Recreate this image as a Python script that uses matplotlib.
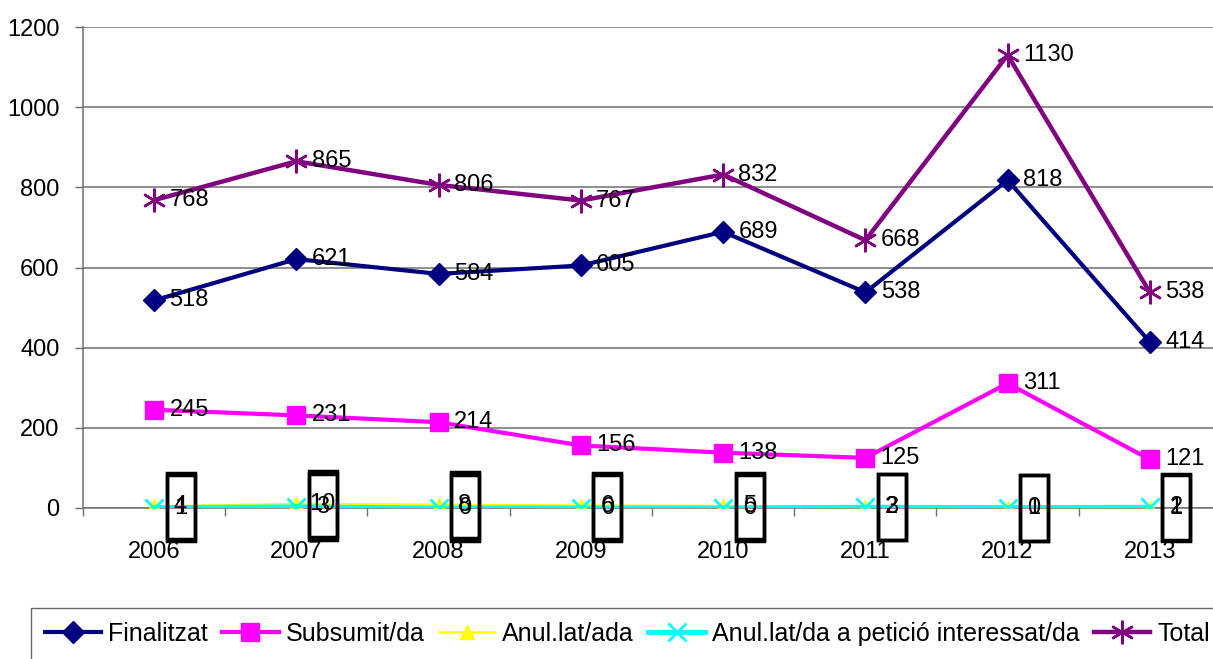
import matplotlib
matplotlib.use("Agg")
import matplotlib.pyplot as plt
from matplotlib.path import Path
from matplotlib.ticker import FixedLocator, MultipleLocator

years = ["2006", "2007", "2008", "2009", "2010", "2011", "2012", "2013"]
finalitzat = [518, 621, 584, 605, 689, 538, 818, 414]
subsumit = [245, 231, 214, 156, 138, 125, 311, 121]
anulada = [4, 10, 8, 6, 5, 3, 0, 1]
anulada_peticio = [1, 3, 0, 0, 0, 2, 1, 2]
total = [768, 865, 806, 767, 832, 668, 1130, 538]

names = ["Finalitzat", "Subsumit/da", "Anul.lat/ada",
         "Anul.lat/da a petició interessat/da", "Total"]

plt.rcParams['font.family'] = ['Liberation Sans', 'DejaVu Sans']
FS = 17
LFS = 18

fig = plt.figure(figsize=(12.13, 6.59), dpi=100)
ax = fig.add_axes([83/1213, 151/659, (1221-83)/1213, (508-27)/659])

x = list(range(len(years)))

ax.plot(x, finalitzat, color='#000080', lw=3.0, marker='D', ms=11, label=names[0], zorder=4)
ax.plot(x, subsumit, color='#FF00FF', lw=3.0, marker='s', ms=13, label=names[1], zorder=4)
ax.plot(x, anulada, color='#FFFF00', lw=1.8, marker='^', ms=10, label=names[2], zorder=4)
ax.plot(x, anulada_peticio, color='#00FFFF', lw=3.5, marker='x', ms=13, mew=2,
        label=names[3], zorder=4)
ax.plot(x, total, color='#800080', lw=3.2, marker=(6, 2, 0), ms=17, mew=1.8,
        label=names[4], zorder=5)

# labels for the main series
for series in (finalitzat, subsumit, total):
    for xi, v in zip(x, series):
        ax.annotate(str(v), (xi, v), xytext=(11, 0), textcoords='offset points',
                    ha='left', va='center', fontsize=FS, color='black', zorder=6)


def tallbox(x0, y0, width, height, mutation_size):
    # fixed-size tall label frame (display pixels)
    cx = x0 + width / 2
    cy = y0 + height / 2
    hw = 14
    hh = 33
    verts = [(cx - hw, cy - hh), (cx + hw, cy - hh), (cx + hw, cy + hh),
             (cx - hw, cy + hh), (cx - hw, cy - hh)]
    codes = [Path.MOVETO, Path.LINETO, Path.LINETO, Path.LINETO, Path.CLOSEPOLY]
    return Path(verts, codes)


for series in (anulada, anulada_peticio):
    for xi, v in zip(x, series):
        ax.annotate(str(v), (xi, v), xytext=(19, 0), textcoords='offset points',
                    ha='center', va='center', fontsize=FS, color='black', zorder=7,
                    bbox=dict(boxstyle=tallbox, fc='none', ec='black', lw=2.5))

ax.set_xlim(-0.5, len(years) - 0.5)
ax.set_ylim(0, 1200)
ax.yaxis.set_major_locator(MultipleLocator(200))
ax.set_xticks(x)
ax.set_xticklabels(years)
ax.xaxis.set_minor_locator(FixedLocator([i + 0.5 for i in range(-1, len(years))]))
ax.tick_params(axis='x', which='major', length=0, pad=24, labelsize=FS)
ax.tick_params(axis='x', which='minor', length=6, width=1, color='#707070', direction='out')
ax.tick_params(axis='y', which='major', length=6, width=1, color='#707070', pad=11,
               labelsize=FS)
ax.grid(axis='y', color='#707070', lw=1.1)
ax.set_axisbelow(True)
for s in ('top', 'right'):
    ax.spines[s].set_visible(False)
ax.spines['left'].set_color('#707070')
ax.spines['bottom'].set_color('#707070')
ax.spines['left'].set_linewidth(1.1)
ax.spines['bottom'].set_linewidth(1.1)

leg = fig.legend(loc='upper left', bbox_to_anchor=(31/1213, 1 - 608/659), ncol=5,
                 fontsize=LFS, frameon=True, fancybox=False, edgecolor='#404040',
                 handlelength=2.25, handletextpad=0.28, columnspacing=0.58,
                 borderpad=0.55, borderaxespad=0)
leg.get_frame().set_linewidth(1)

fig.savefig("out.png", dpi=100)
